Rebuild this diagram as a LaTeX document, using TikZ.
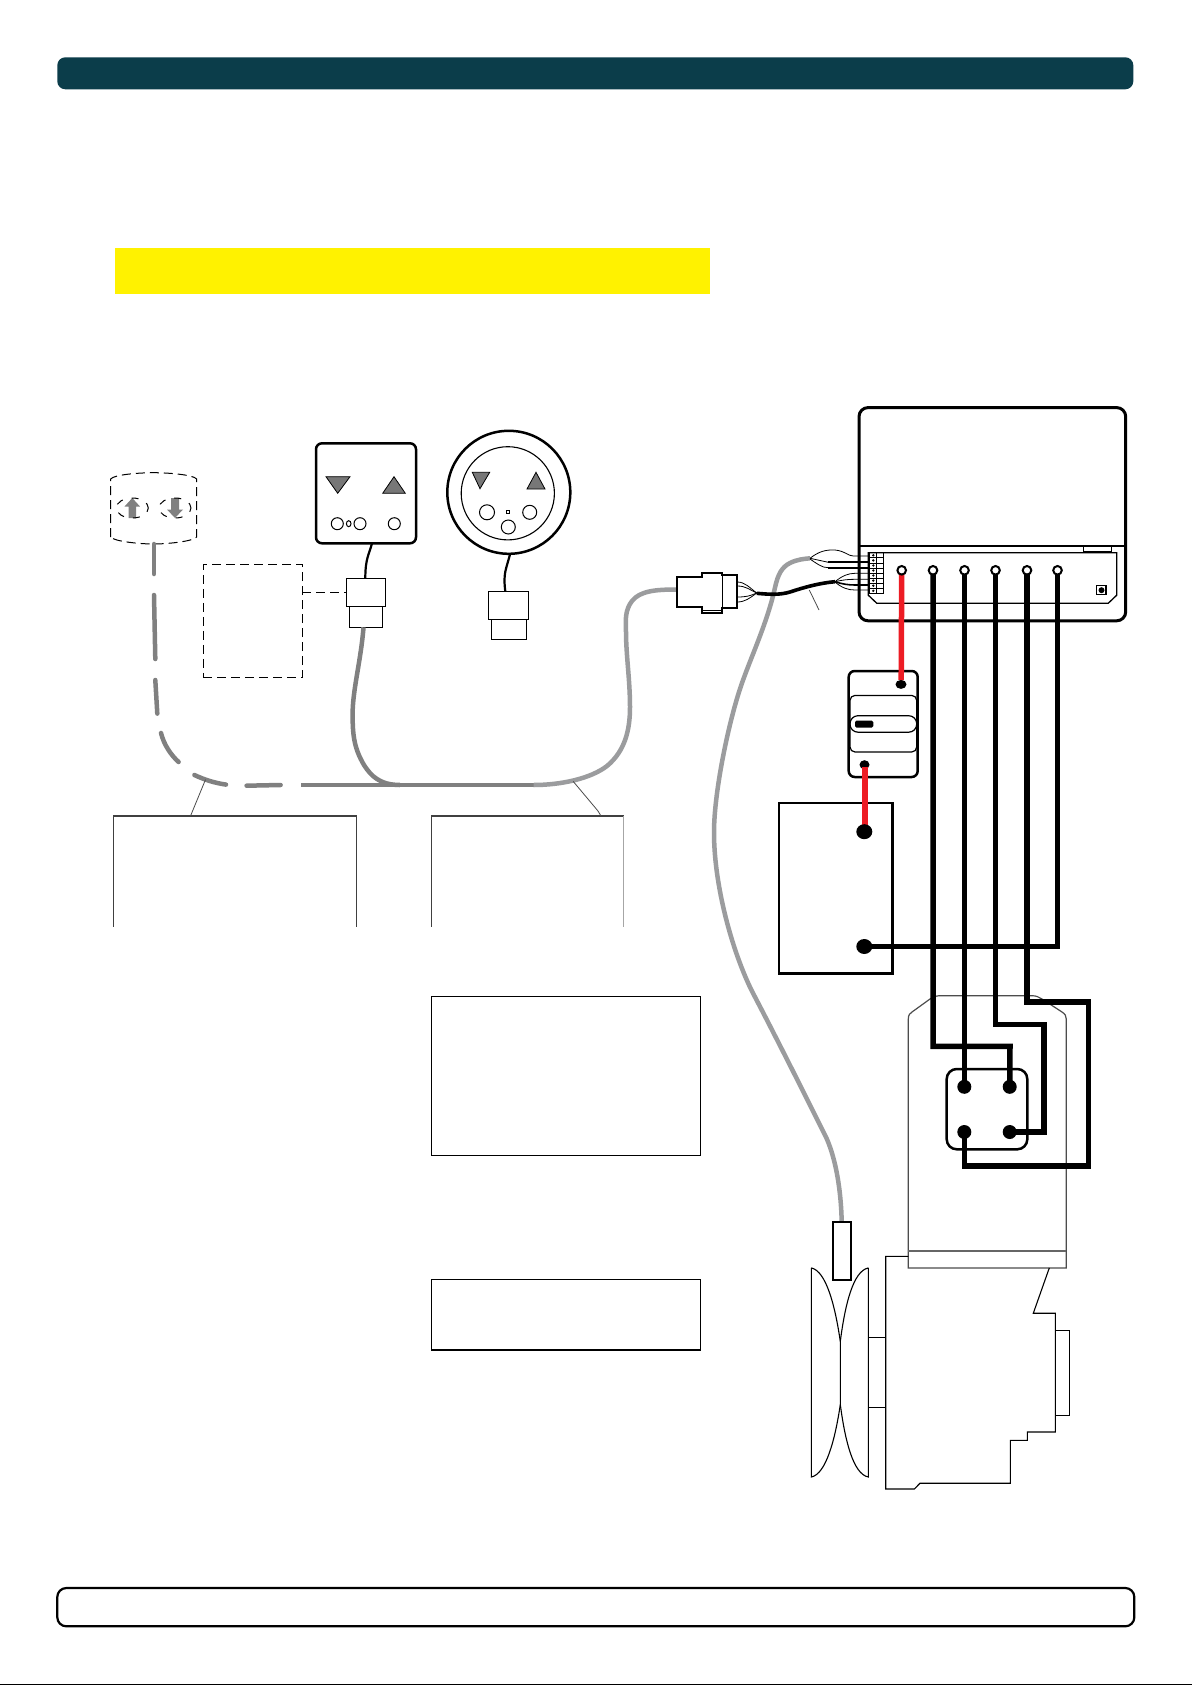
\documentclass[tikz,border=0pt]{standalone}
\definecolor{headbar}{HTML}{0B3D4A}
\definecolor{marker}{HTML}{FFF200}
\definecolor{cabledark}{HTML}{808080}
\definecolor{cablelight}{HTML}{9B9C9E}
\definecolor{wirered}{HTML}{ED1C24}
\definecolor{tri}{HTML}{777777}
\newcommand{\bx}[6][]{\node[boxbase,#1,minimum width={(#5-#3)*1pt},minimum height={(#6-#4)*1pt},anchor=north west] (#2) at (#3,#4) {};}
\tikzset{
  boxbase/.style={inner sep=0pt,outer sep=0pt},
  thinbox/.style={draw=black,line width=1pt,fill=white},
  heavybox/.style={draw=black,line width=2.5pt,fill=white},
  labelbox/.style={draw=black,line width=1.5pt},
  roundheavy/.style={heavybox,rounded corners=6pt},
  cable/.style={line width=4.5pt,line cap=round,line join=round},
  cablegap/.style={cable,draw=cabledark},
  cablemain/.style={cable,draw=cablelight},
  blackwire/.style={draw=black,line width=2.2pt},
  busbar/.style={draw=black,line width=5.5pt,line join=miter},
  redbar/.style={draw=wirered,line width=5.5pt},
  hair/.style={draw=black,line width=.8pt},
  outline/.style={draw=black,line width=1.1pt,line join=miter},
  dashbox/.style={draw=black,line width=1pt,dash pattern=on 9pt off 5pt},
  tridraw/.style={draw=black,line width=.8pt,fill=tri},
  hole/.style={draw=black,line width=1pt,fill=white},
  lug/.style={fill=black},
  term/.style={draw=black,line width=2pt,fill=white},
}
\begin{document}
\begin{tikzpicture}[x=1pt,y=-1pt]
\useasboundingbox (0,0) rectangle (1192,1685);
\fill[white] (0,0) rectangle (1192,1685);
% frame parts
\bx[fill=headbar,rounded corners=8pt]{head}{57.3}{57.3}{1133.3}{89.3}
\bx[fill=marker]{mark}{115}{248}{710}{294}
\bx[draw=black,line width=2.2pt,rounded corners=9pt]{foot}{57.3}{1588}{1134.3}{1626.3}
\draw[black,line width=1pt] (0,1684.5) -- (1192,1684.5);
% text boxes
\bx[labelbox]{txtA}{431.3}{996.3}{700.3}{1155.3}
\bx[labelbox]{txtB}{431.3}{1279.3}{700.3}{1350}
% open label frames
\coordinate (fa1) at (113.8,926.8); \coordinate (fa2) at (113.8,816);
\coordinate (fa3) at (356.6,816);   \coordinate (fa4) at (356.6,926.8);
\coordinate (fb1) at (431.7,926.8); \coordinate (fb2) at (431.7,816);
\coordinate (fb3) at (623.5,816);   \coordinate (fb4) at (623.5,926.8);
\draw[black!75,line width=1.1pt] (fa1) -- (fa2) -- (fa3) -- (fa4);
\draw[black!75,line width=1.1pt] (fb1) -- (fb2) -- (fb3);
\draw[black!35,line width=1.1pt] (fb3) -- (fb4);
% motor
\coordinate (mtl) at (908.3,1019);
\draw[black!70,line width=1.2pt]
  (908.3,1267.9) -- (mtl) .. controls (908.3,1015) and (910,1013) .. (912,1012)
  -- (930,999) .. controls (933,997) and (936,995.7) .. (940,995.7)
  -- (1032,995.7) .. controls (1036,995.7) and (1039,997) .. (1042,999)
  -- (1062,1012) .. controls (1065,1014) and (1066.3,1016) .. (1066.3,1019) -- (1066.3,1267.9) -- cycle;
\draw[black!60,line width=1.2pt] (908.3,1251) -- (1066.3,1251);
\draw[outline] (908.3,1256.4) -- (885.7,1256.4) -- (885.7,1489) -- (914.3,1489) -- (920,1483.2) -- (1010.3,1483.2) -- (1010.3,1440.4) -- (1027.3,1440.4) -- (1027.3,1432) -- (1055.3,1432) -- (1055.3,1313.2) -- (1033.3,1313.2) -- (1049.3,1267.9);
\bx[thinbox,fill=none]{nose}{1055.3}{1330.4}{1069.3}{1415.4}
\draw[outline] (868.3,1337.9) -- (885.7,1337.9) (868.3,1407.5) -- (885.7,1407.5);
% pulley
\draw[outline] (811.3,1267.9) -- (811.3,1477) .. controls (826,1474) and (835,1440) .. (840.3,1404.6) -- (840.3,1341.4) .. controls (835,1305) and (826,1271) .. (811.3,1267.9);
\draw[outline] (868.3,1267.9) -- (868.3,1477) .. controls (853,1474) and (845,1440) .. (840.3,1404.6) (840.3,1341.4) .. controls (845,1305) and (853,1271) .. (868.3,1267.9);
% dashed cylinder
\draw[dashbox] (110.7,537) -- (110.7,479) .. controls (114,474.5) and (140,472.7) .. (153.7,472.7) .. controls (167,472.7) and (193,474.5) .. (196.7,479) -- (196.7,537) .. controls (193,541.5) and (167,544) .. (153.7,544) .. controls (140,544) and (114,541.5) .. (110.7,537);
\fill[cabledark] (132.3,498) -- (140,506.5) -- (136,506.5) -- (136,518) -- (128.5,518) -- (128.5,506.5) -- (124.5,506.5) -- cycle;
\fill[cabledark] (175,518) -- (183,509.5) -- (179,509.5) -- (179,498) -- (171,498) -- (171,509.5) -- (167,509.5) -- cycle;
\draw[black,line width=1pt,dash pattern=on 7pt off 9pt,dash phase=3pt] (132.3,508) ellipse[x radius=16,y radius=10];
\draw[black,line width=1pt,dash pattern=on 7pt off 9pt,dash phase=3pt] (175,508) ellipse[x radius=16,y radius=10];
% dashed note
\bx[dashbox]{note}{203}{564.7}{302.3}{677.9}
% control panel connector 1
\bx[roundheavy]{pad}{316}{443.3}{416}{543.3}
\draw[tridraw] (326,476.7) -- (350,476.7) -- (337.7,493.3) -- cycle;
\draw[tridraw] (382.7,493.3) -- (405.3,493.3) -- (394,476.7) -- cycle;
\draw[hole] (337.3,523.7) circle[radius=6];
\draw[hole] (348.7,523.7) ellipse[x radius=2.3,y radius=3];
\draw[hole] (360,523.7) circle[radius=6];
\draw[hole] (394.3,523.7) circle[radius=6];
\bx[thinbox]{plugAup}{346.3}{578.7}{385.7}{606}
\bx[thinbox]{plugAlo}{349.3}{606}{382.7}{627.3}
\draw[blackwire] (372,543.3) .. controls (369,555) and (365.3,558) .. (365.3,578.7);
\draw[dashbox] (302.3,592.7) -- (346.3,592.7);
% round pad
\draw[black,line width=2.5pt] (508.8,492.3) circle[radius=61.5];
\draw[black,line width=1.1pt] (507.8,493.3) circle[radius=46.6];
\draw[tridraw] (472.3,472.3) -- (489.7,472.3) -- (480,488.7) -- cycle;
\draw[tridraw] (527,489) -- (545,489) -- (536,472.3) -- cycle;
\draw[hole] (487,512.3) circle[radius=7.5];
\draw[hole] (529.7,512.3) circle[radius=7];
\draw[hole] (508.3,527) circle[radius=7];
\draw[black,line width=.8pt] (506.8,510.8) rectangle (509.2,513.2);
\bx[thinbox]{plugBup}{488.3}{591.3}{528}{619.7}
\bx[thinbox]{plugBlo}{491.3}{619.7}{526}{639.3}
\draw[blackwire] (510,554.3) .. controls (506,570) and (503,573) .. (505.3,591.3);
% cables on the left
\draw[cablegap] (154,544) -- (154,574);
\draw[cablegap] (154,595) -- (155.3,659);
\draw[cablegap] (155.3,680) -- (157.3,713.6);
\draw[cablegap] (161,733) .. controls (164,745) and (171,755) .. (178.6,762);
\draw[cablegap] (194.4,775) .. controls (205,780) and (215,783) .. (226,784.6);
\draw[cablegap] (246.6,785.7) -- (280.6,785);
\coordinate (mainS) at (301,785);
\coordinate (mainM) at (533.7,785);
\draw[cablegap,line cap=butt] (mainS) -- (mainM);
\draw[cablemain,line cap=butt] (mainM) .. controls (560,785) and (590,779) .. (607,766) .. controls (625,751) and (630,730) .. (630,707) .. controls (630,680) and (626,655) .. (626,632) .. controls (625.5,620) and (625,610) .. (632,601) .. controls (640,591) and (655,589.5) .. (677,589.5);
\draw[cablegap,line cap=butt] (plugAlo.south) ++(-2.5,0) .. controls (361,660) and (352.6,690) .. (352.6,714) .. controls (352.6,735) and (354,748) .. (364,765) .. controls (371,776) and (380,785) .. (400,785);
% leaders
\draw[black!70,line width=.8pt] (205.5,779.6) -- (190.5,816);
\draw[black!70,line width=.8pt] (573.2,781.4) -- (598,811) -- (601,816);
% plug on the cable
\draw[draw=black,fill=white,line width=2pt] (676.7,576.7) -- (702.3,576.7) -- (702.3,573.3) -- (722.3,573.3) -- (722.3,575.3) -- (737.3,575.3) -- (737.3,608.3) -- (722.3,608.3) -- (722.3,613.3) -- (702.3,613.3) -- (702.3,606.7) -- (676.7,606.7) -- cycle;
\draw[black,line width=1.6pt] (722.3,575.3) -- (722.3,613.3);
\draw[black,line width=.8pt] (702.3,610) -- (722.3,610);
% sensor cable
\coordinate (senTop) at (841.7,1222);
\coordinate (cabEnd) at (810,558.3);
\draw[cablemain,line cap=butt] (senTop) .. controls (841,1190) and (836,1160) .. (826.7,1138.6)
  .. controls (805,1095) and (780,1045) .. (755,997)
  .. controls (735,960) and (714,890) .. (714,832.4)
  .. controls (714,790) and (730,715) .. (743.3,679.4)
  .. controls (752,655) and (768,620) .. (775,587.5)
  .. controls (778,574) and (782,567) .. (790,563)
  .. controls (797,559.5) and (804,558.8) .. (cabEnd);
\bx[heavybox,line width=2pt]{sensor}{833}{1222}{851}{1279.6}
% fine wires, plug
\draw[hair] (737.3,582) .. controls (745,582) and (750,588) .. (756.7,593);
\draw[hair] (737.3,586) .. controls (746,586) and (750,590) .. (756.7,593);
\draw[hair] (737.3,602) .. controls (745,602) and (750,598) .. (756.7,593);
\draw[hair] (737.3,597) .. controls (746,597) and (750,596) .. (756.7,593);
% controller
\bx[draw=black,line width=3pt,rounded corners=9pt]{ctrl}{859}{407.6}{1125.7}{620.8}
\draw[black,line width=1.8pt] (ctrl.north west |- 0,545.8) -- (ctrl.north east |- 0,545.8);
\draw[black,line width=1pt] (1083.3,545.8) rectangle (1111.7,551.5);
\draw[black,line width=1.3pt] (868.3,552.7) -- (1116.7,552.7) -- (1116.7,595.2) -- (1108.3,603.2) -- (876.7,603.2) -- (868.3,595.2) -- cycle;
% terminal strip
\draw[black,line width=.8pt] (869,552.7) rectangle (883.3,593.3);
\draw[black,line width=.8pt] (876.7,552.7) -- (876.7,593.3);
\foreach \yy in {557.8,562.9,568,573,578,583.2,588.2} \draw[black,line width=.8pt] (869,\yy) -- (883.3,\yy);
\foreach \yy in {555.3,560.4,565.5,570.5,575.5,580.6,585.7,590.8} \fill[black] (873.3,\yy) circle[radius=1.3];
% black cable and its wires
\draw[draw=black,line width=3.6pt] (756.7,593.3) .. controls (770,594.5) and (780,595) .. (790,592) .. controls (805,587) and (820,583) .. (835,581.7);
\draw[hair] (810,558.3) .. controls (818,552) and (825,549.5) .. (835,550) .. controls (845,551) and (848,556) .. (853.3,556) -- (869,556);
\draw[hair] (810,558.3) -- (828.3,562.3);
\draw[hair] (810,559) .. controls (816,563) and (822,568) .. (828.3,567.7);
\draw[black,line width=2pt] (828.3,562.3) -- (869,562.3);
\draw[black,line width=2pt] (828.3,567.7) -- (869,567.7);
\draw[hair] (835,581.7) .. controls (842,576) and (848,573.3) .. (855,573.3) -- (869,573.3);
\draw[hair] (835,581.7) .. controls (842,580) and (848,579.3) .. (855,579.3) -- (869,579.3);
\draw[black,line width=1.6pt] (835,581.7) .. controls (842,584) and (848,585) .. (855,585) -- (869,585);
\draw[hair] (835,582) .. controls (842,588) and (848,590) .. (855,590) -- (869,590);
\draw[black!70,line width=.8pt] (809.3,590) -- (819,610);
% isolator
\bx[roundheavy]{iso}{848.7}{671}{917.7}{777}
\bx[draw=black,line width=1.2pt,rounded corners=5pt]{isoband}{850}{695.4}{916.7}{752}
\bx[draw=black,line width=1.2pt,rounded corners=8pt]{isopill}{850}{715.7}{916.7}{732.2}
\bx[fill=black,rounded corners=1.5pt]{isobar}{855}{720.7}{873.3}{727.6}
% battery
\bx[heavybox]{batt}{779}{803}{892.7}{973.7}
% wiring block
\bx[draw=black,line width=2.5pt,rounded corners=10pt]{block}{946.7}{1069}{1027.3}{1149.3}
% named connection points
\foreach \n/\xx in {t1/901.7,t2/933,t3/964.5,t4/995.5,t5/1027,t6/1057.5} \coordinate (\n) at (\xx,570.3);
\coordinate (isoA) at (901,684.4);
\coordinate (isoB) at (864.5,764.7);
\coordinate (batP) at (864.3,831.7);
\coordinate (batN) at (864.3,946.5);
\coordinate (blA) at (964.3,1086.8);
\coordinate (blB) at (1009.7,1086.8);
\coordinate (blC) at (964.3,1132);
\coordinate (blD) at (1009.7,1132);
% bars
\draw[busbar] (t2) |- (1010,1046.4) -- (blB);
\draw[busbar] (t3) -- (t3 |- blA);
\draw[busbar] (t4) |- (1044,1024.3) |- (blD);
\draw[busbar] (t5) |- (1088.3,1001.8) |- (964.3,1166) -- (blC);
\draw[busbar] (batN) -| (t6);
% lugs
\fill[lug] (isoA) ellipse[x radius=5.5,y radius=4.5];
\fill[lug] (isoB) ellipse[x radius=5,y radius=4.5];
\draw[redbar] (t1) -- (901.2,680);
\draw[redbar] (865,767) -- (865,825);
\foreach \p in {batP,batN} \fill[lug] (\p) ellipse[x radius=8,y radius=7.5];
\foreach \p in {blA,blB,blC,blD} \fill[lug] (\p) ellipse[x radius=7,y radius=7];
\foreach \n in {t1,t2,t3,t4,t5,t6} \draw[term] (\n) circle[radius=4.3];
% socket on controller
\draw[black,line width=1.2pt,fill=white] (1096.5,585.5) rectangle (1106,594.5);
\fill[black] (1101.5,590.2) circle[radius=3];
\end{tikzpicture}
\end{document}
